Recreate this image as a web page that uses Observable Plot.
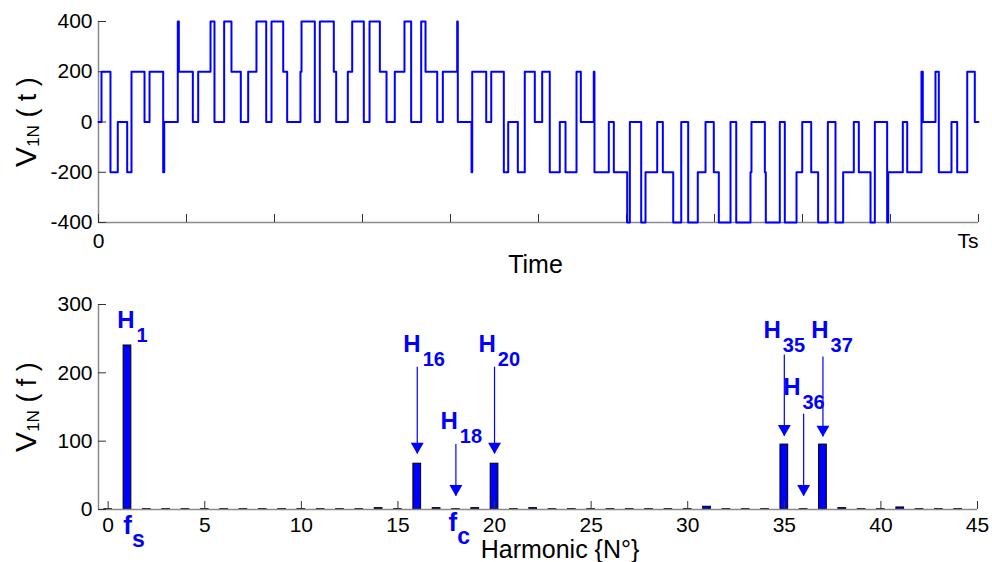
<!DOCTYPE html>
<html><head><meta charset="utf-8">
<script src="https://cdn.jsdelivr.net/npm/d3@7"></script>
<script src="https://cdn.jsdelivr.net/npm/@observablehq/plot@0.6"></script>
<style>
body{margin:0;background:#fff;}
#chart{width:992px;height:562px;position:relative;font-family:"Liberation Sans",Arial,sans-serif;}
#chart svg{display:block;}
</style></head><body><div id="chart"></div>
<script>
// ---------- top panel: phase voltage waveform (fraction of Ts, volts) ----------
const stepTimes = [0, 0.0034, 0.0136, 0.0219, 0.0326, 0.0375, 0.0523, 0.0580, 0.0735, 0.0747,
  0.0901, 0.0913, 0.1072, 0.1133, 0.1273, 0.1318, 0.1428, 0.1511, 0.1617, 0.1701,
  0.1795, 0.1906, 0.1966, 0.2099, 0.2144, 0.2295, 0.2307, 0.2458, 0.2515, 0.2674,
  0.2701, 0.2833, 0.2883, 0.3015, 0.3080, 0.3197, 0.3273, 0.3367, 0.3477, 0.3553,
  0.3667, 0.3716, 0.3849, 0.3913, 0.4076, 0.4083, 0.4239, 0.4247, 0.4406, 0.4463,
  0.4606, 0.4656, 0.4765, 0.4844, 0.4958, 0.5042, 0.5128, 0.5242, 0.5307, 0.5432,
  0.5481, 0.5628, 0.5636, 0.5799, 0.5856, 0.6008, 0.6038, 0.6167, 0.6216, 0.6349,
  0.6413, 0.6531, 0.6622, 0.6701, 0.6810, 0.6898, 0.6992, 0.7049, 0.7182, 0.7247,
  0.7409, 0.7420, 0.7572, 0.7583, 0.7742, 0.7799, 0.7932, 0.7997, 0.8099, 0.8178,
  0.8288, 0.8375, 0.8462, 0.8583, 0.8640, 0.8773, 0.8822, 0.8962, 0.8974, 0.9140,
  0.9190, 0.9352, 0.9367, 0.9511, 0.9549, 0.9693, 0.9758, 0.9872, 0.9958, 1];
const stepLevels = [0, 200, -200, 0, -200, 200, 0, 200, -200, 0,
  400, 200, 0, 200, 400, 0, 400, 200, 0, 200,
  400, 0, 400, 200, 0, 200, 400, 0, 400, 200,
  0, 200, 400, 0, 400, 200, 0, 200, 400, 0,
  400, 200, 0, 200, 400, 0, -200, 200, 0, 200,
  -200, 0, -200, 200, 0, 200, -200, 0, -200, 200,
  0, 200, -200, 0, -200, -400, 0, -400, -200, 0,
  -200, -400, 0, -400, -200, 0, -200, -400, 0, -400,
  -200, 0, -200, -400, 0, -400, -200, 0, -200, -400,
  0, -400, -200, 0, -200, -400, 0, -400, -200, 0,
  -200, 200, 0, 200, -200, 0, -200, 200, 0, 0];
const timeTicks = [0, 0.1, 0.2, 0.3, 0.4, 0.5, 0.6, 0.7, 0.8, 0.9, 1];
const timeLabelValues = [0, 1];
const timeLabels = ["0", "Ts"];
const voltageTicks = [-400, -200, 0, 200, 400];
const topXLabel = "Time";
const topYLabel = "V_{1N} ( t )";

// ---------- bottom panel: harmonic spectrum ----------
const harmonics = [0,1,2,3,4,5,6,7,8,9,10,11,12,13,14,15,16,17,18,19,20,21,22,
  23,24,25,26,27,28,29,30,31,32,33,34,35,36,37,38,39,40,41,42,43,44];
const magnitudes = [0.5,240,0.5,0.5,0.5,0.5,0.5,0.5,0.5,0.5,0.5,0.5,0.5,0.5,2,0.5,67,2,0.5,2,67,0.5,2,
  0.5,0.5,0.5,0.5,0.5,0.5,0.5,0.5,4,0.5,0.5,0.5,95,0.5,95,2,0.5,0.5,3,0.5,0.5,0.5];
const harmonicTicks = [0, 5, 10, 15, 20, 25, 30, 35, 40, 45];
const magnitudeTicks = [0, 100, 200, 300];
const peakLabels = ["H_{1}", "H_{16}", "H_{18}", "H_{20}", "H_{35}", "H_{36}", "H_{37}"];
const peakLabelX = [0.47, 15.28, 17.2, 19.17, 33.92, 34.94, 36.39];
const peakLabelY = [265, 230.5, 118.5, 230.5, 250.7, 167, 250.7];
const arrowHarmonics = [16, 18, 20, 35, 36, 37];
const arrowFrom = [209, 96, 209, 227, 140, 224];
const arrowTo = [82, 20, 82, 108, 20, 107];
const freqLabels = ["f_{s}", "f_{c}"];
const freqLabelX = [0.78, 17.62];
const freqLabelY = [-35.7, -31.3];
const bottomXLabel = "Harmonic {N°}";
const bottomYLabel = "V_{1N} ( f )";

// ---------- build ----------
const FONT = '"Liberation Sans", Arial, sans-serif';
const BLUE = "#0000ff";
const AXIS = "#8a8a8a";
const TICK = "#333";
const plain = d => String(d);

const wave = stepTimes.map((t, i) => ({t, v: stepLevels[i]}));
const timeLabelData = timeLabelValues.map((t, i) => ({t, label: timeLabels[i]}));
const bars = harmonics.map((h, i) => ({h, v: magnitudes[i]}));
const peaks = peakLabels.map((label, i) => ({label, x: peakLabelX[i], y: peakLabelY[i]}));
const arrows = arrowHarmonics.map((h, i) => ({h, from: arrowFrom[i], to: arrowTo[i]}));
const freqs = freqLabels.map((label, i) => ({label, x: freqLabelX[i], y: freqLabelY[i]}));

const topPlot = Plot.plot({
  width: 992, height: 282,
  marginLeft: 98, marginRight: 14, marginTop: 21, marginBottom: 60,
  style: {fontFamily: FONT, fontSize: "21px", color: "#000", background: "#fff", overflow: "visible"},
  x: {domain: [0, 1]},
  y: {domain: [-400, 400]},
  marks: [
    Plot.ruleX([0], {stroke: AXIS, strokeWidth: 1.5}),
    Plot.ruleY([-400], {stroke: AXIS, strokeWidth: 1.5}),
    Plot.axisY({ticks: voltageTicks, tickSize: 0, tickPadding: 6, fontSize: 21, tickFormat: plain, label: null}),
    Plot.axisY({ticks: voltageTicks, tickSize: -8, tickFormat: () => "", label: null, stroke: TICK}),
    Plot.axisX({ticks: timeTicks, tickSize: -8, tickFormat: () => "", label: null, stroke: TICK}),
    Plot.text(timeLabelData.slice(0, 1), {x: "t", frameAnchor: "bottom", text: "label", lineAnchor: "top", textAnchor: "middle", dy: 11, fontSize: 21}),
    Plot.text(timeLabelData.slice(1), {x: "t", frameAnchor: "bottom", text: "label", lineAnchor: "top", textAnchor: "end", dy: 11, fontSize: 21}),
    Plot.line(wave, {x: "t", y: "v", curve: "step-after", stroke: BLUE, strokeWidth: 2}),
    Plot.text([topXLabel], {text: d => d, frameAnchor: "bottom", lineAnchor: "bottom", textAnchor: "middle", dx: -3, dy: 50, fontSize: 25}),
    Plot.text([topYLabel], {text: d => d, frameAnchor: "left", rotate: -90, lineAnchor: "bottom", textAnchor: "middle", dx: -63, fontSize: 27})
  ]
});

const bottomPlot = Plot.plot({
  width: 992, height: 280,
  marginLeft: 98, marginRight: 15, marginTop: 22, marginBottom: 53,
  style: {fontFamily: FONT, fontSize: "21px", color: "#000", background: "#fff", overflow: "visible"},
  x: {domain: [-0.5, 45]},
  y: {domain: [0, 300]},
  marks: [
    Plot.rectY(bars, {x1: d => d.h - 0.2, x2: d => d.h + 0.2, y1: 0, y2: "v", fill: BLUE, stroke: "#000", strokeWidth: 1}),
    Plot.ruleX([-0.5], {stroke: AXIS, strokeWidth: 1.5}),
    Plot.ruleY([0], {stroke: AXIS, strokeWidth: 1.5}),
    Plot.axisY({ticks: magnitudeTicks, tickSize: 0, tickPadding: 6, fontSize: 21, tickFormat: plain, label: null}),
    Plot.axisY({ticks: magnitudeTicks, tickSize: -8, tickFormat: () => "", label: null, stroke: TICK}),
    Plot.axisX({ticks: harmonicTicks, tickSize: 0, tickPadding: 8, fontSize: 21, tickFormat: plain, label: null}),
    Plot.axisX({ticks: harmonicTicks, tickSize: -8, tickFormat: () => "", label: null, stroke: TICK}),
    Plot.link(arrows, {x1: "h", x2: "h", y1: "from", y2: "to", stroke: BLUE, strokeWidth: 1.2}),
    Plot.dot(arrows, {x: "h", y: "to", symbol: "triangle", rotate: 180, r: 4.8, fill: BLUE, stroke: "none", dy: -7}),
    Plot.text(peaks, {x: "x", y: "y", text: "label", textAnchor: "start", lineAnchor: "bottom", fill: BLUE, fontWeight: "bold", fontSize: 24}),
    Plot.text(freqs, {x: "x", y: "y", text: "label", textAnchor: "start", lineAnchor: "bottom", fill: BLUE, fontWeight: "bold", fontSize: 26}),
    Plot.text([bottomXLabel], {text: d => d, frameAnchor: "bottom", lineAnchor: "bottom", textAnchor: "middle", dx: 22, dy: 48.5, fontSize: 25}),
    Plot.text([bottomYLabel], {text: d => d, frameAnchor: "left", rotate: -90, lineAnchor: "bottom", textAnchor: "middle", dx: -63, fontSize: 27})
  ]
});

// turn "X_{sub}rest" strings into real subscripted SVG text
const subStyle = {
  H: {size: 20, dy: 14, dx: 2},
  f: {size: 23, dy: 13, dx: 0},
  V: {size: 17, dy: 3, dx: 0, headSize: 30}
};
function texify(svg) {
  d3.select(svg).selectAll("text").each(function () {
    const m = /^(.*?)_\{(.*?)\}(.*)$/.exec(this.textContent);
    if (!m) return;
    const st = subStyle[m[1][0]] || {size: 16, dy: 4, dx: 0};
    const t = d3.select(this);
    t.text(null);
    const head = t.append("tspan").text(m[1]);
    if (st.headSize) head.attr("font-size", st.headSize);
    t.append("tspan").attr("font-size", st.size).attr("dy", st.dy).attr("dx", st.dx).text(m[2]);
    if (m[3]) t.append("tspan").attr("dy", -st.dy).text(m[3]);
  });
}
texify(topPlot);
texify(bottomPlot);

const chart = document.getElementById("chart");
chart.appendChild(topPlot);
chart.appendChild(bottomPlot);
</script></body></html>
